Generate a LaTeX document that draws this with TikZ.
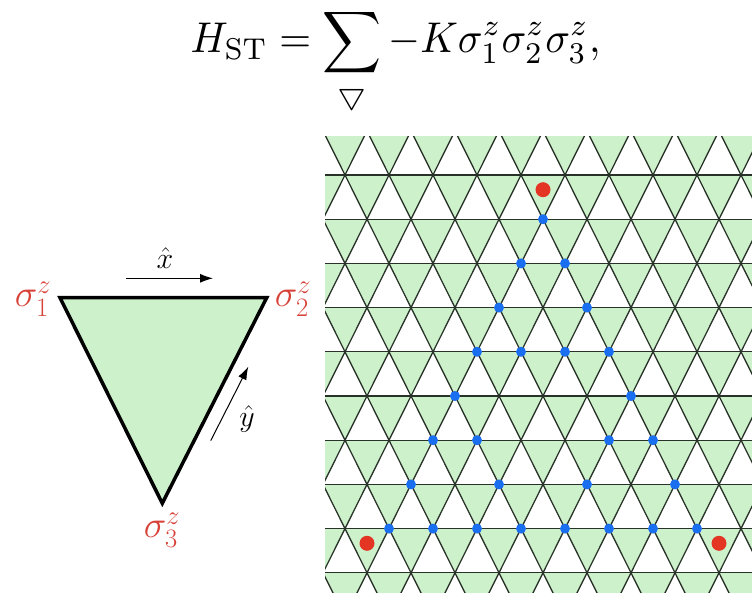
\RequirePackage{fix-cm}
\documentclass[tikz,border=0pt]{standalone}
\usepackage{amsmath}
\usepackage{graphicx}
\usetikzlibrary{arrows.meta}
\definecolor{plaq}{RGB}{205,242,203}
\definecolor{latline}{RGB}{40,50,40}
\definecolor{spinred}{RGB}{215,65,55}
\definecolor{dotred}{RGB}{228,52,36}
\definecolor{dotblue}{RGB}{26,110,240}
\begin{document}
\begin{tikzpicture}[x=1pt,y=-1pt,
  latedge/.style={draw=latline,line width=1.3pt},
  bluedot/.style={circle,fill=dotblue,inner sep=0pt,minimum size=10pt},
  reddot/.style={circle,fill=dotred,inner sep=0pt,minimum size=15pt},
  spin/.style={text=spinred,font=\fontsize{38}{44}\selectfont,inner sep=0pt},
  vec/.style={draw=black,line width=1pt,-{Latex[length=13pt,width=9pt]}},
  veclabel/.style={font=\fontsize{30}{36}\selectfont,inner sep=0pt}]
\useasboundingbox (0,0) rectangle (752,593);
% equation
\node[anchor=base,inner sep=0pt] (eq) at (395.5,53)
  {\scalebox{4.09}[4.3]{$\displaystyle H_{\mathrm{ST}}=\sum_{\bigtriangledown}-K\sigma_1^z\sigma_2^z\sigma_3^z,$}};
% lattice
\begin{scope}
\clip (325,137) rectangle (752,593);
\foreach \k in {-1,...,10} {
  \foreach \i in {-9,...,11} {
    \fill[plaq] ({345+44*\i+22*\k},{175+44.2*\k}) -- ++(44,0) -- ++(-22,44.2) -- cycle;
  }
}
\foreach \k in {-1,...,10} {
  \draw[latedge] (320,{175+44.2*\k}) -- (760,{175+44.2*\k});
}
\foreach \i in {-7,...,11} {
  \draw[latedge] ({345+44*\i-22},130.8) -- ({345+44*\i+220},617);
}
\foreach \i in {-2,...,16} {
  \draw[latedge] ({345+44*\i+22},130.8) -- ({345+44*\i-220},617);
}
\end{scope}
% fractal of flipped spins
\foreach \r/\js in {0/{0},1/{0,1},2/{0,2},3/{0,1,2,3},4/{0,4},5/{0,1,4,5},6/{0,2,4,6},7/{0,1,2,3,4,5,6,7}} {
  \foreach \j in \js {
    \node[bluedot] (b\r-\j) at ({543-22*\r+44*\j},{175+44.2*(\r+1)}) {};
  }
}
\node[reddot] (dtop) at (543,189.7) {};
\node[reddot] (dleft) at (367,543.3) {};
\node[reddot] (dright) at (719,543.3) {};
% single plaquette
\coordinate (s1) at (60,297.7);
\coordinate (s2) at (266.7,297.7);
\coordinate (s3) at (162.3,503.3);
\filldraw[fill=plaq,draw=black,line width=3.5pt] (s1) -- (s2) -- (s3) -- cycle;
\node[spin] (l1) at (33,299) {$\sigma_1^z$};
\node[spin] (l2) at (293,299) {$\sigma_2^z$};
\node[spin] (l3) at (162,530) {$\sigma_3^z$};
\coordinate (xa) at (126,278.3);
\coordinate (xb) at (213,278.3);
\draw[vec] (xa) -- (xb);
\node[veclabel] (xl) at (165,258) {$\hat{x}$};
\coordinate (ya) at (210.7,440.7);
\coordinate (yb) at (248.3,366.7);
\draw[vec] (ya) -- (yb);
\node[veclabel] (yl) at (247,419) {$\hat{y}$};
\end{tikzpicture}
\end{document}
